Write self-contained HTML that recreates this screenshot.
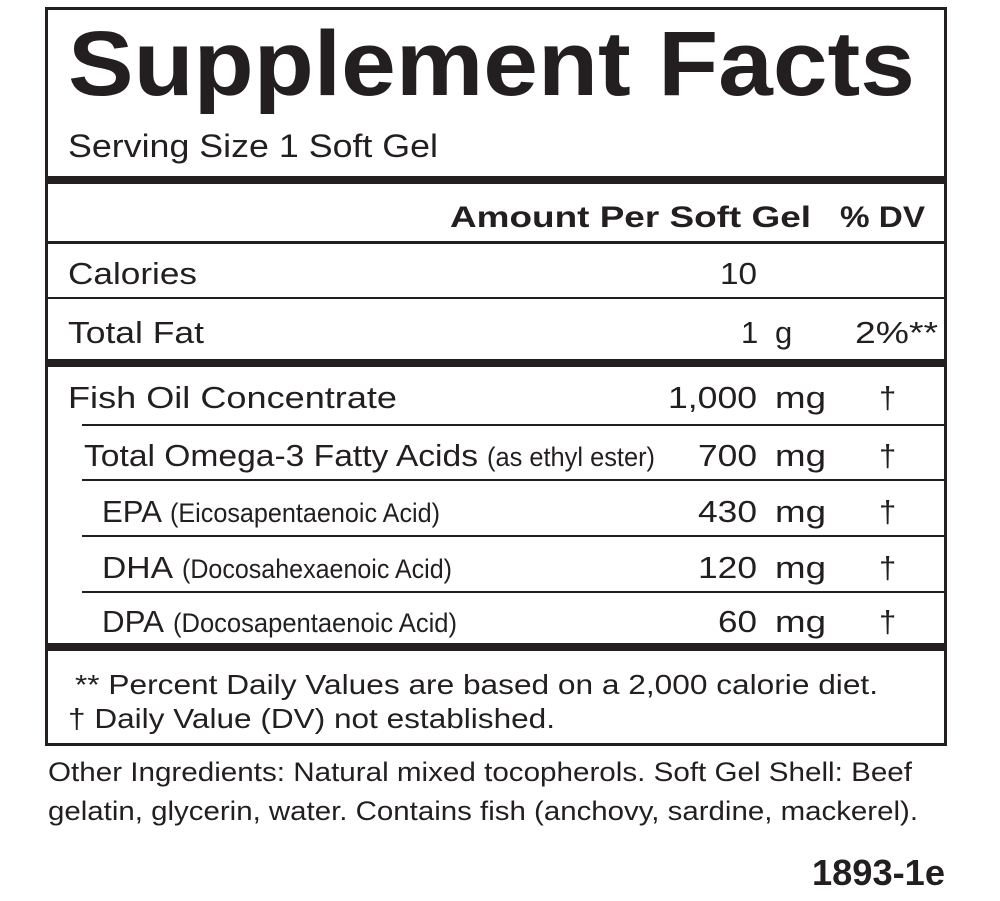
<!DOCTYPE html>
<html><head><meta charset="utf-8"><style>
html,body{margin:0;padding:0;background:#fff;width:1000px;height:901px;overflow:hidden}
svg{display:block}
text{font-family:"Liberation Sans",sans-serif;fill:#231f20}
</style></head><body>
<svg width="1000" height="901" viewBox="0 0 1000 901" xmlns="http://www.w3.org/2000/svg">
<g fill="#231f20">
<rect x="45" y="7" width="902" height="3"/>
<rect x="45" y="7" width="3" height="739"/>
<rect x="944" y="7" width="3" height="739"/>
<rect x="45" y="743" width="902" height="3"/>
<rect x="45" y="176" width="902" height="8"/>
<rect x="45" y="241" width="902" height="3"/>
<rect x="45" y="297" width="902" height="2"/>
<rect x="45" y="359" width="902" height="8"/>
<rect x="82" y="424" width="865" height="2"/>
<rect x="82" y="479" width="865" height="2"/>
<rect x="82" y="535" width="865" height="2"/>
<rect x="82" y="591" width="865" height="2"/>
<rect x="45" y="643" width="902" height="8"/>
</g>
<text x="68" y="95" font-size="92" font-weight="bold" textLength="847" lengthAdjust="spacingAndGlyphs">Supplement Facts</text>
<text x="68" y="157" font-size="32" textLength="370" lengthAdjust="spacingAndGlyphs">Serving Size 1 Soft Gel</text>
<text x="450" y="227" font-size="30" font-weight="bold" textLength="361" lengthAdjust="spacingAndGlyphs">Amount Per Soft Gel</text>
<text x="840" y="227" font-size="30" font-weight="bold" textLength="85" lengthAdjust="spacingAndGlyphs">% DV</text>
<g font-size="31">
<text x="68" y="284" textLength="129" lengthAdjust="spacingAndGlyphs">Calories</text>
<text x="720" y="284" textLength="37" lengthAdjust="spacingAndGlyphs">10</text>
<text x="68" y="343" textLength="136" lengthAdjust="spacingAndGlyphs">Total Fat</text>
<text x="741" y="343">1</text>
<text x="775" y="343">g</text>
<text x="855" y="343" textLength="83" lengthAdjust="spacingAndGlyphs">2%**</text>
<text x="68" y="408" textLength="329" lengthAdjust="spacingAndGlyphs">Fish Oil Concentrate</text>
<text x="668" y="408" textLength="89" lengthAdjust="spacingAndGlyphs">1,000</text>
<text x="84" y="466" textLength="394" lengthAdjust="spacingAndGlyphs">Total Omega-3 Fatty Acids</text>
<text x="698" y="466" textLength="59" lengthAdjust="spacingAndGlyphs">700</text>
<text x="102" y="522" textLength="60" lengthAdjust="spacingAndGlyphs">EPA</text>
<text x="698" y="522" textLength="59" lengthAdjust="spacingAndGlyphs">430</text>
<text x="102" y="578" textLength="71" lengthAdjust="spacingAndGlyphs">DHA</text>
<text x="698" y="578" textLength="59" lengthAdjust="spacingAndGlyphs">120</text>
<text x="102" y="632" textLength="62" lengthAdjust="spacingAndGlyphs">DPA</text>
<text x="718" y="632" textLength="39" lengthAdjust="spacingAndGlyphs">60</text>
<text x="775" y="408" textLength="51" lengthAdjust="spacingAndGlyphs">mg</text>
<text x="775" y="466" textLength="51" lengthAdjust="spacingAndGlyphs">mg</text>
<text x="775" y="522" textLength="51" lengthAdjust="spacingAndGlyphs">mg</text>
<text x="775" y="578" textLength="51" lengthAdjust="spacingAndGlyphs">mg</text>
<text x="775" y="632" textLength="51" lengthAdjust="spacingAndGlyphs">mg</text>
<text x="879" y="408">†</text>
<text x="879" y="466">†</text>
<text x="879" y="522">†</text>
<text x="879" y="578">†</text>
<text x="879" y="632">†</text>
</g>
<g font-size="27">
<text x="487" y="466" textLength="168" lengthAdjust="spacingAndGlyphs">(as ethyl ester)</text>
<text x="170" y="522" textLength="270" lengthAdjust="spacingAndGlyphs">(Eicosapentaenoic Acid)</text>
<text x="182" y="578" textLength="270" lengthAdjust="spacingAndGlyphs">(Docosahexaenoic Acid)</text>
<text x="173" y="632" textLength="284" lengthAdjust="spacingAndGlyphs">(Docosapentaenoic Acid)</text>
</g>
<g font-size="28">
<text x="75" y="694" textLength="803" lengthAdjust="spacingAndGlyphs">** Percent Daily Values are based on a 2,000 calorie diet.</text>
<text x="68" y="728" textLength="487" lengthAdjust="spacingAndGlyphs">† Daily Value (DV) not established.</text>
</g>
<g font-size="27">
<text x="48" y="781" textLength="864" lengthAdjust="spacingAndGlyphs">Other Ingredients: Natural mixed tocopherols. Soft Gel Shell: Beef</text>
<text x="48" y="820" textLength="870" lengthAdjust="spacingAndGlyphs">gelatin, glycerin, water.  Contains fish (anchovy, sardine, mackerel).</text>
</g>
<text x="812" y="885" font-size="36" font-weight="bold" textLength="133" lengthAdjust="spacingAndGlyphs">1893-1e</text>
</svg>
</body></html>
